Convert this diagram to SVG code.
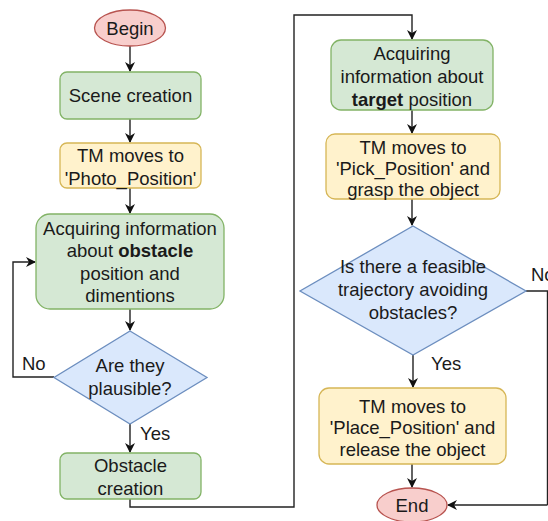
<svg xmlns="http://www.w3.org/2000/svg" width="548" height="521" viewBox="0 0 548 521">
  <style>
    text { font-family: "Liberation Sans", Arial, sans-serif; font-size: 18.5px; fill: #1a1a1a; text-anchor: middle; }
    .lbl { text-anchor: start; }
    .green { fill: #d5e8d4; stroke: #82b366; stroke-width: 1.3; }
    .yellow { fill: #fff2cc; stroke: #d6b656; stroke-width: 1.3; }
    .red { fill: #f8cecc; stroke: #b85450; stroke-width: 1.3; }
    .blue { fill: #dae8fc; stroke: #6c8ebf; stroke-width: 1.3; }
    .edge { fill: none; stroke: #222; stroke-width: 1.4; marker-end: url(#arrow); }
    .plain { fill: none; stroke: #222; stroke-width: 1.4; }
  </style>
  <defs>
    <marker id="arrow" viewBox="0 0 10 10" refX="9" refY="5" markerWidth="10" markerHeight="10" markerUnits="userSpaceOnUse" orient="auto">
      <path d="M0,0 L10,5 L0,10 L3,5 Z" fill="#111"/>
    </marker>
  </defs>
  <rect width="548" height="521" fill="#fff"/>

  <!-- connectors -->
  <g id="connectors">
    <path class="edge" d="M130,46 V71"/>
    <path class="edge" d="M130,119 V142"/>
    <path class="edge" d="M130,188 V213"/>
    <path class="edge" d="M130,309 V330"/>
    <path class="edge" d="M54,377 H13 V262 H35"/>
    <path class="edge" d="M130,424 V452"/>
    <path class="edge" d="M130,499 V507 H294 V15 H412 V39"/>
    <path class="edge" d="M412,110 V133"/>
    <path class="edge" d="M412,199 V225"/>
    <path class="edge" d="M413,355 V387"/>
    <path class="edge" d="M412,464 V487"/>
    <path class="plain" d="M526,291 H547.5 V505"/>
    <path class="edge" d="M547.5,505 H448"/>
    <text class="lbl" x="22" y="370">No</text>
    <text class="lbl" x="140" y="440">Yes</text>
    <text class="lbl" x="431" y="370">Yes</text>
    <text class="lbl" x="531" y="281">No</text>
  </g>

  <!-- left column -->
  <g id="begin">
    <ellipse class="red" cx="130" cy="28" rx="35.5" ry="18"/>
    <text x="130" y="34.5">Begin</text>
  </g>
  <g id="scene-creation">
    <rect class="green" x="60" y="72" width="141" height="47" rx="7"/>
    <text x="130.5" y="102">Scene creation</text>
  </g>
  <g id="photo-position">
    <rect class="yellow" x="60" y="143" width="141" height="45" rx="7"/>
    <text x="130.5" y="161.5">TM moves to</text>
    <text x="130.5" y="184.5">'Photo_Position'</text>
  </g>
  <g id="acquire-obstacle">
    <rect class="green" x="36" y="214" width="188" height="95" rx="14"/>
    <text x="130" y="234.5">Acquiring information</text>
    <text x="130" y="257">about <tspan font-weight="bold">obstacle</tspan></text>
    <text x="130" y="279.5">position and</text>
    <text x="130" y="302">dimentions</text>
  </g>
  <g id="plausible">
    <path class="blue" d="M130,331 L207,377.5 L130,424 L54,377.5 Z"/>
    <text x="130" y="371.5">Are they</text>
    <text x="130" y="394.5">plausible?</text>
  </g>
  <g id="obstacle-creation">
    <rect class="green" x="60" y="453" width="141" height="46" rx="7"/>
    <text x="130.5" y="471.5">Obstacle</text>
    <text x="130.5" y="494.5">creation</text>
  </g>

  <!-- right column -->
  <g id="acquire-target">
    <rect class="green" x="331" y="40" width="162" height="70" rx="10"/>
    <text x="412" y="59.5">Acquiring</text>
    <text x="412" y="82.5">information about</text>
    <text x="412" y="105.5"><tspan font-weight="bold">target</tspan> position</text>
  </g>
  <g id="pick-position">
    <rect class="yellow" x="326" y="134" width="174" height="65" rx="9"/>
    <text x="413" y="153.5">TM moves to</text>
    <text x="413" y="174.5">'Pick_Position' and</text>
    <text x="413" y="195.5">grasp the object</text>
  </g>
  <g id="feasible">
    <path class="blue" d="M413,226 L526,291 L413,355 L300,291 Z"/>
    <text x="413" y="272.5">Is there a feasible</text>
    <text x="413" y="295.5">trajectory avoiding</text>
    <text x="413" y="318.5">obstacles?</text>
  </g>
  <g id="place-position">
    <rect class="yellow" x="319" y="388" width="187" height="76" rx="10"/>
    <text x="412.5" y="412.5">TM moves to</text>
    <text x="412.5" y="433.5">'Place_Position' and</text>
    <text x="412.5" y="455.5">release the object</text>
  </g>
  <g id="end">
    <ellipse class="red" cx="412" cy="505" rx="35" ry="17"/>
    <text x="412" y="511.5">End</text>
  </g>
</svg>
